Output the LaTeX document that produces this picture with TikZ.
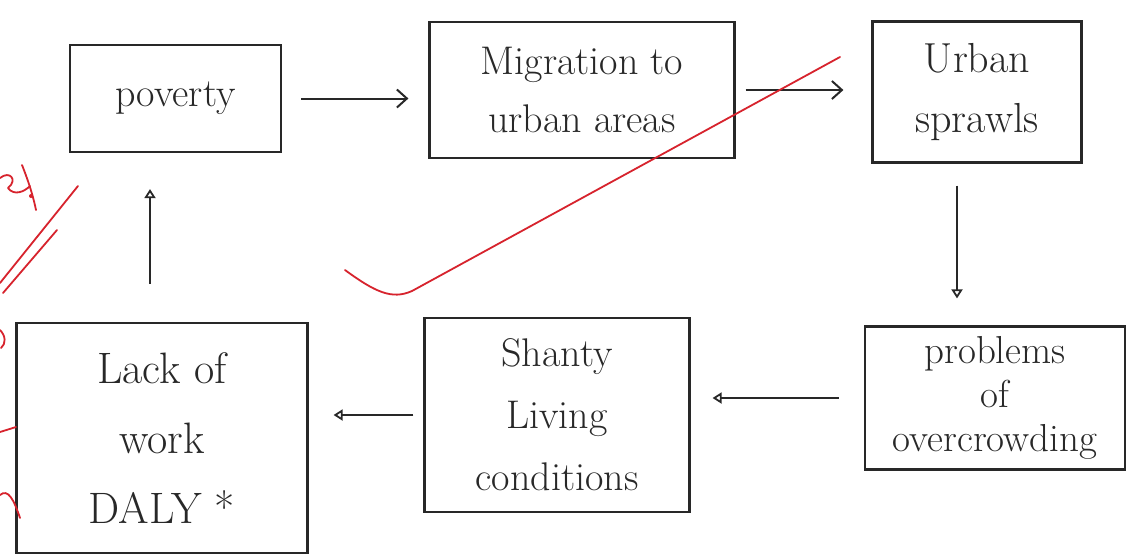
\documentclass[tikz,border=0pt]{standalone}
\usetikzlibrary{arrows.meta}
\definecolor{pen}{RGB}{40,40,40}
\definecolor{redink}{RGB}{215,35,45}
\begin{document}
\begin{tikzpicture}[x=1pt,y=-1pt,
  box/.style={draw=pen, line width=2.2pt, inner sep=0pt, align=center, text=pen,
    font=\fontsize{40}{48}\selectfont},
  link/.style={draw=pen, line width=2pt},
  openhead/.style={link, -{Straight Barb[length=10pt,width=18pt,line width=2pt]}},
  smallhead/.style={link, -{Triangle[open,length=9pt,width=11pt,line width=1.8pt]}},
  redpen/.style={draw=redink, line width=1.8pt, line cap=round, line join=round}]
  % page
  \fill[white] (0,0) rectangle (1131,558);
  \useasboundingbox (0,0) rectangle (1131,558);

  % boxes of the cycle
  \node[box, minimum width=211pt, minimum height=107pt] (pov) at (175.5,98.5) {poverty};
  \node[box, minimum width=305pt, minimum height=136pt,
        font=\fontsize{40}{58}\selectfont] (mig) at (582,90) {Migration to\\urban areas};
  \node[box, minimum width=209pt, minimum height=141pt,
        font=\fontsize{42}{60}\selectfont] (urb) at (977,92) {Urban\\sprawls};
  \node[box, minimum width=260pt, minimum height=143pt,
        font=\fontsize{39}{44}\selectfont] (prob) at (995,398) {problems\\of\\overcrowding};
  \node[box, minimum width=265pt, minimum height=194pt,
        font=\fontsize{40}{62}\selectfont] (sh) at (557,415) {Shanty\\Living\\conditions};
  \node[box, minimum width=291pt, minimum height=230pt,
        font=\fontsize{44}{70}\selectfont] (lack) at (162,438) {Lack of\\work\\DALY *};

  % connectors
  \draw[openhead, shorten <=19pt, shorten >=20pt] (pov.east) -- (pov.east -| mig.west);
  \draw[openhead, shorten <=10pt, shorten >=28pt] (mig.east) -- (mig.east -| urb.west);
  \draw[smallhead, shorten <=22pt, shorten >=27pt]
    ([xshift=-20pt]urb.south) -- ([xshift=-20pt]urb.south |- prob.north);
  \draw[smallhead, shorten <=25pt, shorten >=22pt] (prob.west) -- (prob.west -| sh.east);
  \draw[smallhead, shorten <=10pt, shorten >=25pt] (sh.west) -- (sh.west -| lack.east);
  \draw[smallhead, shorten <=38pt, shorten >=36pt]
    ([xshift=-12pt]lack.north) -- ([xshift=-12pt]lack.north |- pov.south);

  % red pen marks
  \draw[redpen] (345,270) .. controls (375,292) and (392,300) .. (412,291) -- (840,57);
  \draw[redpen] (0,283) -- (78,186);
  \draw[redpen] (3,293) -- (57,230);
  \draw[redpen] (0,178) .. controls (10,170) and (18,180) .. (8,188)
    .. controls (14,196) and (24,192) .. (30,186);
  \draw[redpen] (22,165) .. controls (30,185) and (34,200) .. (36,210);
  \fill[redink] (31,196) circle (2pt);
  \draw[redpen] (0,330) .. controls (6,336) and (6,344) .. (1,348);
  \draw[redpen] (0,432) -- (16,427);
  \draw[redpen] (0,495) .. controls (8,488) and (14,500) .. (20,518);
\end{tikzpicture}
\end{document}
